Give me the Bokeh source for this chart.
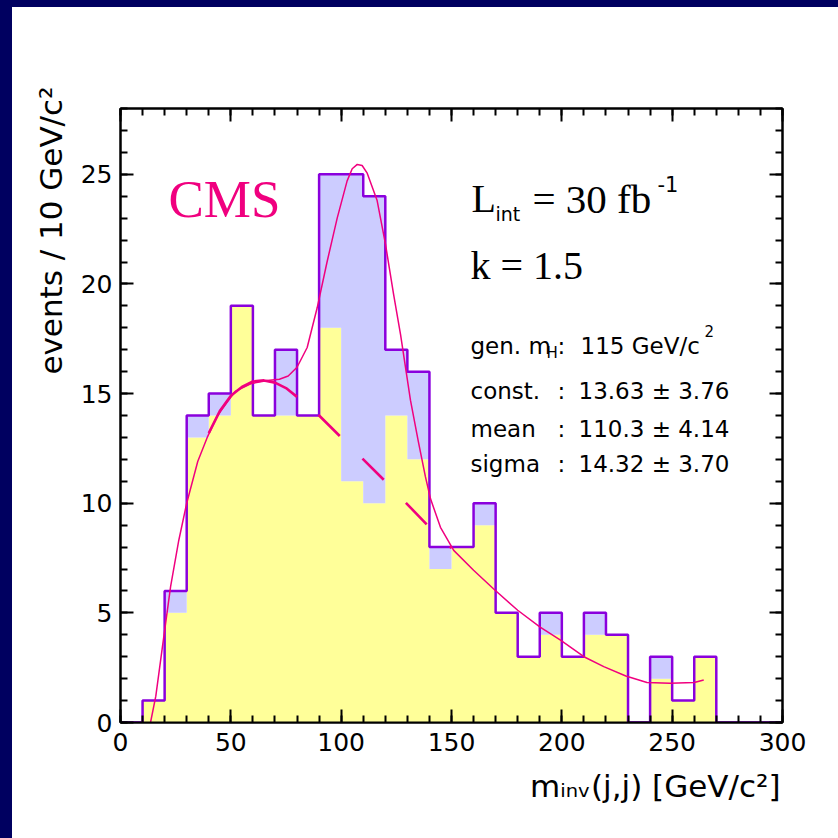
from bokeh.plotting import figure
from bokeh.models import (Range1d, LinearAxis, SingleIntervalTicker, Label, Title,
                          CustomJSTickFormatter, GlobalInlineStyleSheet)
from bokeh.embed import file_html
from bokeh.resources import INLINE

# ---------------- data ----------------
bin_edges = [0, 10, 20, 30, 40, 50, 60, 70, 80, 90, 100, 110, 120, 130, 140, 150,
             160, 170, 180, 190, 200, 210, 220, 230, 240, 250, 260, 270, 280, 290, 300]
total_counts = [0, 1, 6, 14, 15, 19, 14, 17, 14, 25, 25, 24, 17, 16, 8, 8,
                10, 5, 3, 5, 3, 5, 4, 0, 3, 1, 3, 0, 0, 0]
bkg_counts = [0, 1, 5, 13, 14, 19, 14, 14, 14, 18, 11, 10, 14, 12, 7, 8,
              9, 5, 3, 4, 3, 4, 4, 0, 2, 1, 3, 0, 0, 0]

fit_x = [13.6, 16, 19, 22.7, 26.4, 30, 35, 39.3, 44, 48.3, 52, 59, 66.5, 72, 76, 80,
         84.6, 89.1, 93.6, 98.2, 102.7, 105, 107.3, 109.5, 111.8, 116.3, 120.1, 123.8,
         126.9, 131.4, 135, 138.2, 140.5, 145, 151, 160, 169, 180, 190, 199.4, 210, 219,
         229, 238.6, 249, 260, 264.3]
fit_y = [0, 1.2, 3.45, 6.2, 8.3, 10.0, 11.9, 13.0, 14.0, 14.6, 15.1, 15.45, 15.6,
         15.65, 15.8, 16.2, 17.1, 18.9, 21.0, 23.0, 24.7, 25.25, 25.45, 25.4, 25.05,
         23.8, 21.8, 19.5, 17.7, 14.7, 12.8, 11.2, 10.2, 8.9, 7.85, 6.94, 6.1, 5.12,
         4.36, 3.76, 3.0, 2.55, 2.12, 1.82, 1.79, 1.82, 1.94]

bkg_fit_x = [40, 45, 50, 55, 60, 65, 70, 75, 80, 90, 100, 110, 120, 130, 140, 150]
bkg_fit_y = [13.2, 14.2, 14.9, 15.3, 15.55, 15.6, 15.5, 15.25, 14.85, 14.0, 13.0,
             12.0, 11.0, 9.95, 8.9, 7.95]

x_tick_interval = 50
y_tick_interval = 5

# ---------------- styles ----------------
YELLOW = "#ffff99"
LAVENDER = "#ccccff"
PURPLE = "#8a00dd"
PINK = "#f0007f"
NAVY = "#000060"
SANS = "DejaVu Sans"
SERIF = "Liberation Serif"

# page: navy strips on top (7px) and left (12px); figure fills the rest
BODY_LEFT, BODY_TOP = 12, 7
FIG_W, FIG_H = 838 - BODY_LEFT, 838 - BODY_TOP
FRAME_L, FRAME_R, FRAME_T, FRAME_B = 120, 782, 108, 722   # page pixels

p = figure(width=FIG_W, height=FIG_H, x_range=Range1d(0, 300), y_range=Range1d(0, 28),
           output_backend="svg", toolbar_location=None,
           x_axis_location=None, y_axis_location=None,
           min_border_left=FRAME_L - BODY_LEFT,
           min_border_right=838 - FRAME_R,
           min_border_top=FRAME_T - BODY_TOP,
           min_border_bottom=838 - FRAME_B,
           background_fill_color="white", border_fill_color="white")
p.xgrid.visible = False
p.ygrid.visible = False
p.outline_line_color = "black"
p.outline_line_width = 2

p.stylesheets = [GlobalInlineStyleSheet(css=(
    "html,body{margin:0 !important;padding:0 !important;"
    "box-sizing:border-box !important;background:#ffffff !important;}"
    "body{border-top:%dpx solid %s !important;border-left:%dpx solid %s !important;"
    "overflow:hidden !important;}" % (BODY_TOP, NAVY, BODY_LEFT, NAVY)))]


def style_axis(ax, labels=True, size="25px"):
    ax.axis_line_color = "black"
    ax.axis_line_width = 2
    ax.major_tick_in = 13
    ax.major_tick_out = 0
    ax.minor_tick_in = 7
    ax.minor_tick_out = 0
    ax.major_tick_line_width = 2
    ax.minor_tick_line_width = 2
    ax.major_tick_line_color = "black"
    ax.minor_tick_line_color = "black"
    ax.major_label_text_font = SANS
    ax.major_label_text_font_size = size
    ax.major_label_text_color = "black"
    if not labels:
        ax.formatter = CustomJSTickFormatter(code="return ''")


xb = LinearAxis(ticker=SingleIntervalTicker(interval=x_tick_interval, num_minor_ticks=5))
style_axis(xb)
xb.major_label_standoff = 10
p.add_layout(xb, "below")

xt = LinearAxis(ticker=SingleIntervalTicker(interval=x_tick_interval, num_minor_ticks=5))
style_axis(xt, labels=False)
p.add_layout(xt, "above")

yl = LinearAxis(ticker=SingleIntervalTicker(interval=y_tick_interval, num_minor_ticks=5))
style_axis(yl)
yl.major_label_standoff = 8
p.add_layout(yl, "left")

yr = LinearAxis(ticker=SingleIntervalTicker(interval=y_tick_interval, num_minor_ticks=5))
style_axis(yr, labels=False)
p.add_layout(yr, "right")

# axis titles (ROOT style: aligned to the end of the axis)
p.add_layout(Title(text="m\u1d62\u2099\u1d65(j,j) [GeV/c\u00b2]", align="right", offset=2,
                   text_font=SANS, text_font_size="31px", text_font_style="normal",
                   text_color="black", standoff=24), "below")
p.add_layout(Title(text="events / 10 GeV/c\u00b2", align="right", offset=-22,
                   text_font=SANS, text_font_size="31px", text_font_style="normal",
                   text_color="black", standoff=18), "left")

# ---------------- histogram ----------------
p.varea_step(x=bin_edges, y1=[0] * len(bin_edges), y2=bkg_counts + [bkg_counts[-1]],
             step_mode="after", fill_color=YELLOW)
p.varea_step(x=bin_edges, y1=bkg_counts + [bkg_counts[-1]],
             y2=total_counts + [total_counts[-1]], step_mode="after", fill_color=LAVENDER)
p.step(x=bin_edges, y=total_counts + [total_counts[-1]], mode="after",
       line_color=PURPLE, line_width=2.5)

# ---------------- fits ----------------
p.line(bkg_fit_x[:9], bkg_fit_y[:9], line_color=PINK, line_width=2.6)
p.line(bkg_fit_x[8:], bkg_fit_y[8:], line_color=PINK, line_width=2.6,
       line_dash="30 32", line_dash_offset=34)
p.line(fit_x, fit_y, line_color=PINK, line_width=1.5)


# ---------------- texts inside the frame ----------------
def px2x(px):
    return (px - FRAME_L) / ((FRAME_R - FRAME_L) / 300)


def py2y(py):
    return (FRAME_B - py) / ((FRAME_B - FRAME_T) / 28)


def lab(text, px, py, font, size, color="black"):
    p.add_layout(Label(x=px2x(px), y=py2y(py), text=text, text_font=font,
                       text_font_size=size, text_color=color, text_align="left",
                       text_baseline="alphabetic"))


lab("CMS", 168, 198, SERIF, "53px", color=PINK)

lab("L", 471, 198, SERIF, "40px")
lab("int", 495, 213, SANS, "19px")
lab("= 30 fb", 532, 198, SERIF, "41px")
lab("-1", 657, 183, SANS, "21px")
lab("k = 1.5", 470, 265, SERIF, "40px")

lab("gen. m", 470, 345, SANS, "23px")
lab("H", 546, 352, SANS, "15px")
lab(":", 557, 345, SANS, "23px")
lab("115 GeV/c", 580, 345, SANS, "23px")
lab("2", 704, 330, SANS, "15px")

rows = [("const.", "13.63 \u00b1 3.76", 390),
        ("mean", "110.3 \u00b1 4.14", 428),
        ("sigma", "14.32 \u00b1 3.70", 463)]
for name, val, base in rows:
    lab(name, 470, base, SANS, "23px")
    lab(":", 557, base, SANS, "23px")
    lab(val, 578, base, SANS, "23px")

open("out.html", "w").write(file_html(p, INLINE))
